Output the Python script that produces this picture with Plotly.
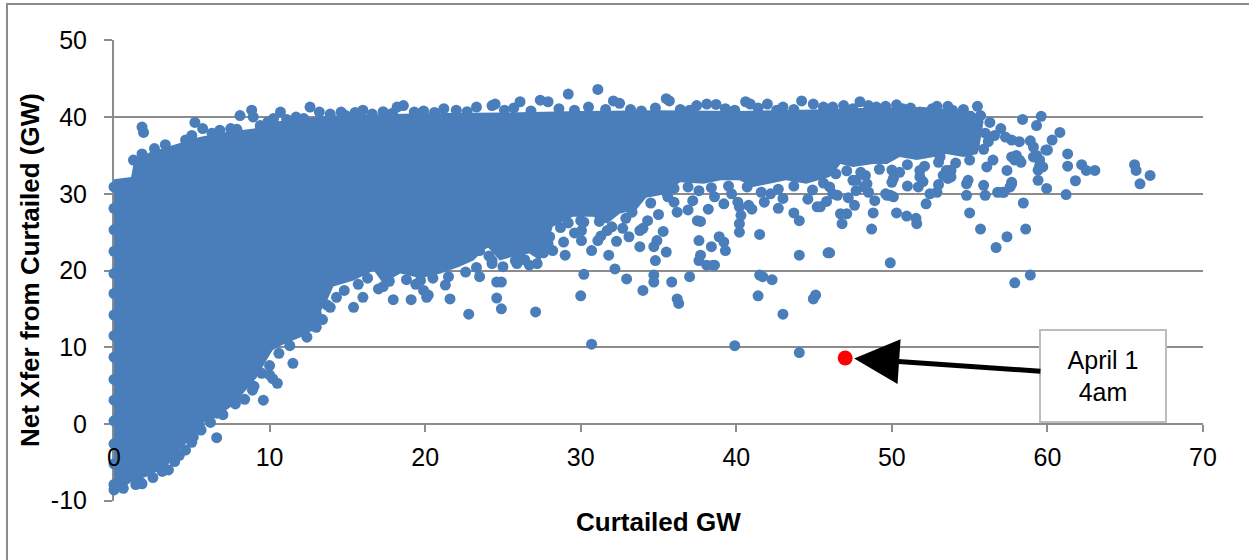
import plotly.graph_objects as go

# ---------------- data ----------------
x_ticks = [0, 10, 20, 30, 40, 50, 60, 70]
y_ticks = [-10, 0, 10, 20, 30, 40, 50]

# outline of the solid, fully over-plotted part of the cloud (Curtailed GW, Net Xfer GW)
dense_outline = [
    (0, -9.3), (1.2, -7.4), (2.1, -6.9), (3.4, -5.6), (3.8, -4.3), (4.4, -3.0), (5.3, -1.2),
    (5.7, 0.1), (6.6, 0.9), (7.5, 2.2), (8.1, 3.5), (9.2, 6.1), (9.8, 8.3), (10.2, 9.6),
    (10.8, 10.3), (12.0, 11.3), (12.8, 12.2), (13.2, 14.4), (13.7, 16.1), (14.1, 17.9),
    (15.4, 18.7), (16.7, 20.0), (17.3, 18.3), (18.4, 19.6), (19.7, 19.0), (21.0, 19.6),
    (22.2, 20.5), (23.1, 21.3), (24.0, 23.1), (24.8, 21.3), (25.6, 21.8), (26.7, 22.2),
    (27.4, 21.3), (27.8, 23.1), (28.2, 25.7), (29.5, 27.0), (30.8, 27.0), (31.7, 26.1),
    (32.5, 27.4), (33.6, 28.0), (34.2, 29.5), (35.1, 29.8), (36.4, 31.5), (37.9, 31.3),
    (39.0, 31.75), (40.2, 31.75), (41.1, 30.9), (42.2, 31.3), (43.2, 31.75), (44.5, 31.3),
    (46.0, 32.2), (46.7, 33.9), (47.5, 33.5), (48.8, 33.9), (49.7, 33.9), (50.5, 34.8),
    (51.6, 34.4), (52.7, 34.8), (53.5, 35.2), (54.6, 34.8), (55.5, 35.2), (55.7, 37.0),
    (55.9, 39.5), (55.2, 40.8), (52.0, 41.3), (48.0, 41.2), (45.0, 41.0), (40.0, 40.8),
    (35.0, 40.9), (30.0, 40.8), (25.0, 40.6), (20.0, 40.5), (16.0, 40.3), (14.0, 40.2),
    (12.0, 39.8), (10.3, 39.4), (9.0, 38.5), (7.0, 38.0), (5.5, 37.4), (4.0, 36.5),
    (2.3, 35.4), (1.3, 34.4), (1.1, 32.2), (0, 31.9),
]

# individual hours along the zero-curtailment axis
axis_column = [
    (0, -7.9), (0, -5.2), (0, -2.6), (0, 0.4), (0, 3.1), (0, 5.8), (0, 8.7), (0, 11.5),
    (0, 14.2), (0, 17.0), (0, 19.6), (0, 22.5), (0, 25.3), (0, 28.1), (0, 30.9),
]

# hours sitting on the lower rim of the solid cloud
lower_rim = [
    (0.6, -8.4), (1.4, -7.9), (2.5, -7.0), (3.1, -6.2), (3.9, -4.9), (4.6, -3.4), (5.0, -2.4),
    (5.6, -0.8), (6.2, 0.2), (7.0, 1.2), (7.8, 2.6), (8.4, 3.2), (9.0, 4.9), (9.5, 6.6),
    (10.0, 7.6), (10.6, 9.2), (11.3, 10.2), (12.4, 11.3), (13.0, 12.6), (13.4, 13.6),
    (13.9, 15.2), (14.8, 17.4), (15.7, 18.2), (16.3, 19.0), (17.0, 17.6), (17.7, 18.6),
    (18.8, 18.8), (19.4, 18.2), (20.5, 19.0), (21.5, 19.2), (22.6, 19.8), (23.3, 20.4),
    (24.1, 21.9), (25.0, 20.5), (25.9, 20.9), (26.4, 21.4), (27.6, 22.3), (28.0, 24.4),
    (28.7, 25.6), (29.2, 26.2), (30.2, 26.3), (31.2, 26.4), (32.0, 25.7), (32.9, 26.8),
    (33.3, 27.6), (34.5, 28.8), (35.6, 29.6), (36.0, 30.7), (36.9, 30.9), (37.6, 30.4),
    (38.4, 30.8), (39.5, 31.0), (40.7, 30.9), (41.6, 30.2), (42.7, 30.6), (43.7, 31.0),
    (44.9, 30.5), (45.6, 31.4), (46.4, 32.6), (47.1, 33.0), (48.0, 32.8), (49.2, 33.2),
    (50.0, 33.1), (51.0, 33.8), (52.1, 33.6), (53.0, 34.1), (54.1, 34.0), (55.0, 34.4),
    (55.9, 35.8), (56.2, 36.8),
]

# hours sitting on the upper rim of the solid cloud
upper_rim = [
    (2.6, 35.9), (3.3, 36.4), (4.6, 37.0), (5.0, 37.6), (6.3, 37.9), (6.8, 38.3), (7.9, 38.4),
    (9.4, 38.9), (9.9, 39.4), (11.1, 39.7), (11.7, 40.0), (13.9, 40.4), (14.9, 40.2),
    (15.5, 40.6), (16.6, 40.4), (17.3, 40.7), (17.9, 40.5), (19.9, 40.8), (20.6, 40.6),
    (22.0, 40.9), (22.7, 40.7), (25.1, 40.9), (25.7, 41.2), (26.8, 40.8), (28.6, 41.1),
    (29.6, 40.9), (30.5, 41.3), (31.6, 41.0), (33.2, 41.0), (33.9, 40.8), (34.8, 41.2),
    (36.4, 41.0), (37.0, 40.9), (39.3, 41.1), (39.9, 40.9), (41.4, 41.2), (42.6, 40.9),
    (43.7, 41.0), (46.2, 41.3), (46.9, 41.5), (47.5, 41.1), (48.5, 41.5), (49.6, 41.4),
    (50.3, 41.6), (51.2, 41.2), (52.9, 41.4), (53.9, 40.9), (54.6, 41.0), (55.7, 40.2),
]

left_fringe = [
    (6.6, -1.8), (9.6, 3.1), (10.2, 5.9), (10.0, 6.4), (10.5, 5.3), (11.5, 7.9), (8.9, 4.4),
    (8.5, 5.5), (7.8, 3.5), (6.6, 1.4), (5.5, -0.4), (5.1, -1.7), (4.2, -4.1), (3.5, -6.0),
    (1.8, -7.8), (0, -8.6), (3.8, -3.4), (3.0, -4.7), (1.7, -7.6),
    (14.3, 16.5), (15.4, 15.2), (16.0, 16.5), (17.95, 16.2), (19.1, 16.2), (20.2, 16.8),
    (19.9, 17.4), (13.7, 15.5), (12.8, 13.3), (12.2, 12.2), (13.0, 14.4), (17.3, 17.9),
    (21.6, 16.3), (21.3, 18.1), (20.1, 16.5), (19.7, 18.7),
]

middle_fringe = [
    (30.7, 10.4), (39.9, 10.2), (44.05, 9.3), (22.8, 14.3), (27.1, 14.6), (24.6, 16.4),
    (24.9, 15.0), (24.6, 18.5), (24.9, 18.5), (23.5, 19.2), (30.0, 16.7), (30.2, 19.5),
    (32.2, 20.2), (32.95, 18.9), (34.0, 17.4), (34.7, 18.5), (34.7, 19.4), (35.85, 18.5),
    (36.2, 16.3), (36.3, 15.7), (37.0, 19.2), (37.7, 22.0), (37.6, 21.3), (38.1, 20.7),
    (38.5, 20.7), (34.8, 21.3), (33.8, 23.1), (34.7, 23.1), (34.9, 23.9), (35.5, 22.4),
    (35.3, 25.1), (32.7, 25.5), (33.8, 25.2), (34.0, 25.5), (31.8, 22.0), (30.7, 22.6),
    (31.1, 23.9), (30.05, 23.9), (30.05, 25.2), (30.0, 26.5), (31.7, 25.2), (28.2, 22.6),
    (27.9, 23.5), (28.9, 23.7), (27.8, 25.7), (26.7, 24.8), (25.2, 22.6), (25.8, 21.3),
    (26.1, 21.8), (27.2, 20.9), (26.7, 20.7), (24.3, 20.9), (24.3, 21.3), (23.5, 22.6),
    (23.8, 23.5), (37.6, 23.9), (37.7, 26.4), (38.4, 23.1), (38.9, 24.4), (39.2, 23.7),
    (39.3, 22.6), (38.6, 20.7), (41.5, 24.7), (41.4, 16.7), (41.5, 19.4), (41.7, 19.2),
    (42.3, 18.8), (43.0, 14.3), (44.95, 16.3), (45.1, 16.8), (44.05, 22.0), (45.9, 22.3),
    (44.05, 26.5), (45.2, 28.3), (40.2, 25.0), (40.2, 26.1), (40.3, 27.2), (40.2, 28.3),
    (40.8, 28.5), (40.1, 28.9), (39.2, 28.7), (42.2, 30.0), (43.0, 29.4), (36.2, 27.6),
    (35.5, 30.2), (37.2, 29.1), (37.5, 26.5),
    (23.0, 22.9), (24.5, 24.2), (25.4, 23.9), (26.3, 23.0), (27.0, 24.0), (29.0, 22.0),
    (29.6, 24.9), (31.3, 24.5), (32.3, 23.8), (33.1, 24.4), (34.3, 26.5), (35.0, 27.3),
    (36.0, 28.9), (36.9, 27.9), (38.2, 28.0), (38.6, 29.6), (39.7, 30.0), (41.0, 28.0),
    (41.8, 28.9), (42.7, 28.1), (43.7, 27.5), (44.6, 29.3), (45.8, 29.0), (47.2, 29.5),
    (48.9, 29.1), (51.0, 31.0), (52.0, 31.6), (53.0, 31.2),
]

right_fringe = [
    (49.9, 21.0), (57.9, 18.4), (58.9, 19.4), (56.7, 23.0), (57.4, 24.4), (58.6, 25.4),
    (55.7, 25.4), (55.0, 27.5), (58.45, 28.8), (48.7, 25.4), (48.8, 27.5), (46.8, 26.1),
    (46.7, 27.4), (47.1, 27.4), (47.6, 28.5), (50.3, 27.5), (50.95, 27.1), (51.55, 26.8),
    (51.6, 26.1), (46.0, 22.3), (61.2, 29.9), (61.8, 31.7), (59.95, 30.7), (59.4, 31.75),
    (59.4, 33.1), (59.7, 33.5), (61.3, 33.6), (61.3, 35.2), (62.2, 33.8), (62.5, 33.05),
    (63.05, 33.05), (65.6, 33.8), (65.7, 33.05), (65.95, 31.3), (66.6, 32.4), (60.8, 38.0),
    (60.3, 37.0), (59.6, 40.1), (59.3, 38.9), (58.4, 39.7), (58.9, 36.9), (53.6, 41.4),
    (55.5, 41.4), (58.0, 35.0), (58.3, 34.1), (57.4, 33.05), (57.7, 31.3), (57.2, 30.2),
    (56.8, 30.2), (56.0, 29.8), (55.9, 31.1), (54.8, 31.3), (54.8, 29.8), (59.5, 34.4),
    (60.0, 35.7), (59.1, 34.8), (52.2, 28.7), (52.45, 30.0), (52.9, 30.2), (51.7, 30.9),
    (49.9, 29.8), (49.6, 30.0), (48.2, 30.9), (47.7, 31.75), (53.7, 33.05), (53.3, 32.4),
    (53.6, 32.0), (56.1, 33.5), (56.5, 34.4), (57.7, 34.8), (57.9, 34.4), (59.1, 36.1),
    (59.3, 35.0), (59.5, 33.7), (53.1, 34.8), (53.5, 33.05), (53.8, 33.05), (53.8, 32.2),
    (51.8, 33.05), (51.8, 32.2), (50.5, 32.8), (50.1, 32.0), (50.0, 31.5), (48.3, 32.4),
    (48.4, 31.3), (48.5, 30.2), (47.5, 31.75), (47.7, 30.4), (46.0, 30.9), (46.2, 30.0),
    (46.5, 29.8), (45.4, 28.3), (49.7, 29.8), (50.1, 29.6), (54.9, 31.75), (57.1, 30.2),
    (57.6, 30.9), (57.7, 31.5), (58.2, 34.4), (59.9, 35.7),
    (53.7, 38.9), (54.7, 38.5), (55.3, 38.1), (56.0, 37.9), (56.6, 37.6), (57.3, 37.4),
    (57.7, 37.0), (58.2, 36.8), (56.3, 39.3), (57.0, 38.5), (54.4, 36.9), (55.3, 36.3),
]

top_fringe = [
    (29.2, 43.0), (31.1, 43.6), (35.5, 42.4), (35.7, 42.1), (21.2, 41.1), (23.3, 41.3),
    (24.3, 41.5), (24.5, 41.7), (26.1, 42.0), (27.4, 42.2), (27.9, 42.0), (32.1, 42.1),
    (32.5, 41.8), (37.45, 41.5), (38.1, 41.7), (38.7, 41.65), (40.6, 42.0), (40.9, 41.7),
    (42.0, 41.7), (43.0, 41.3), (44.2, 42.1), (44.95, 41.7), (45.6, 41.3), (1.8, 38.7),
    (1.9, 38.0), (1.25, 34.4), (1.8, 35.2), (5.2, 39.3), (5.7, 38.5), (8.1, 40.2),
    (8.85, 40.9), (8.95, 40.0), (10.7, 40.65), (10.25, 39.8), (12.6, 41.3), (13.2, 40.65),
    (12.2, 39.8), (14.6, 40.65), (16.0, 40.9), (18.2, 41.3), (18.6, 41.5), (19.3, 40.65),
    (7.5, 38.5), (47.95, 42.0), (49.0, 41.3), (50.7, 41.1), (51.8, 40.65), (52.6, 41.1),
]

highlight_x = [47.0]          # April 1, 4am
highlight_y = [8.6]
callout_x = [63.6]            # centre of the callout box
callout_y = [6.3]

# ---------------- figure ----------------
BLUE = "#4a7ebb"
GRID = "#8c8c8c"
FONT = "Liberation Sans, Arial, sans-serif"

points = axis_column + lower_rim + upper_rim + left_fringe + middle_fringe + right_fringe + top_fringe

fig = go.Figure()
fig.add_trace(go.Scatter(
    x=[p[0] for p in dense_outline], y=[p[1] for p in dense_outline],
    mode="lines", fill="toself", fillcolor=BLUE,
    line=dict(width=0, color=BLUE), hoverinfo="skip", showlegend=False,
))
fig.add_trace(go.Scatter(
    x=[p[0] for p in points], y=[p[1] for p in points],
    mode="markers", marker=dict(color=BLUE, size=11, line=dict(width=0)),
    cliponaxis=False, showlegend=False,
))
# highlighted hour drawn on the overlay axis so it (and the tick labels) sit on top
fig.add_trace(go.Scatter(
    x=highlight_x, y=highlight_y, mode="markers", xaxis="x2",
    marker=dict(color="#ff0000", size=15, line=dict(width=0)),
    cliponaxis=False, showlegend=False,
))

y_lo, y_hi = -10.05, 50.05
x_pos = (0 - y_lo) / (y_hi - y_lo)
fig.update_layout(
    width=1249, height=560,
    margin=dict(l=114, r=46, t=40, b=59),
    paper_bgcolor="white", plot_bgcolor="white",
    font=dict(family=FONT, size=25, color="#000000"),
    showlegend=False,
    xaxis=dict(
        range=[0, 70], tickvals=x_ticks, showticklabels=False,
        anchor="free", position=x_pos,
        showline=True, linecolor=GRID, linewidth=2,
        ticks="outside", ticklen=7, tickwidth=2, tickcolor=GRID,
        showgrid=False, zeroline=False, layer="below traces",
    ),
    xaxis2=dict(
        range=[0, 70], matches="x", overlaying="x", anchor="free", position=x_pos,
        tickvals=x_ticks, ticktext=[str(v) for v in x_ticks],
        showline=False, ticks="outside", ticklen=7, tickwidth=2,
        tickcolor="rgba(0,0,0,0)", showgrid=False, zeroline=False,
        layer="above traces", side="bottom",
        tickfont=dict(size=25, color="#000000", family=FONT),
        ticklabelstandoff=4,
    ),
    yaxis=dict(
        range=[y_lo, y_hi], tickvals=y_ticks, ticktext=[str(v) for v in y_ticks],
        showline=True, linecolor=GRID, linewidth=2,
        ticks="outside", ticklen=8, tickwidth=2, tickcolor=GRID,
        showgrid=True, gridcolor=GRID, gridwidth=2,
        zeroline=False, layer="below traces",
        tickfont=dict(size=25, color="#000000", family=FONT),
        ticklabelstandoff=12,
    ),
    shapes=[dict(
        type="rect", xref="paper", yref="paper",
        x0=(7 - 114) / 1089, x1=1.06, y0=-0.15, y1=(501 - 4) / 461,
        line=dict(color=GRID, width=2), fillcolor="rgba(0,0,0,0)", layer="below",
    )],
    annotations=[
        dict(text="<b>Curtailed GW</b>", xref="paper", yref="paper",
             x=0.5, y=(501 - 522) / 461, xanchor="center", yanchor="middle",
             showarrow=False, font=dict(size=26, family=FONT, color="#000000")),
        dict(text="<b>Net Xfer from Curtailed (GW)</b>", xref="paper", yref="paper",
             x=(30 - 114) / 1089, y=(501 - 270) / 461, xanchor="center", yanchor="middle",
             textangle=-90, showarrow=False,
             font=dict(size=26, family=FONT, color="#000000")),
        dict(text="April 1<br>4am", x=highlight_x[0], y=highlight_y[0],
             ax=callout_x[0], ay=callout_y[0], axref="x", ayref="y",
             showarrow=True, arrowhead=2, arrowsize=1.8, arrowwidth=5,
             arrowcolor="#000000", standoff=9,
             bordercolor="#bdbdbd", borderwidth=2, borderpad=0, bgcolor="white",
             width=124, height=90, align="center",
             font=dict(size=25, family=FONT, color="#000000")),
    ],
)

fig.write_html("out.html")
